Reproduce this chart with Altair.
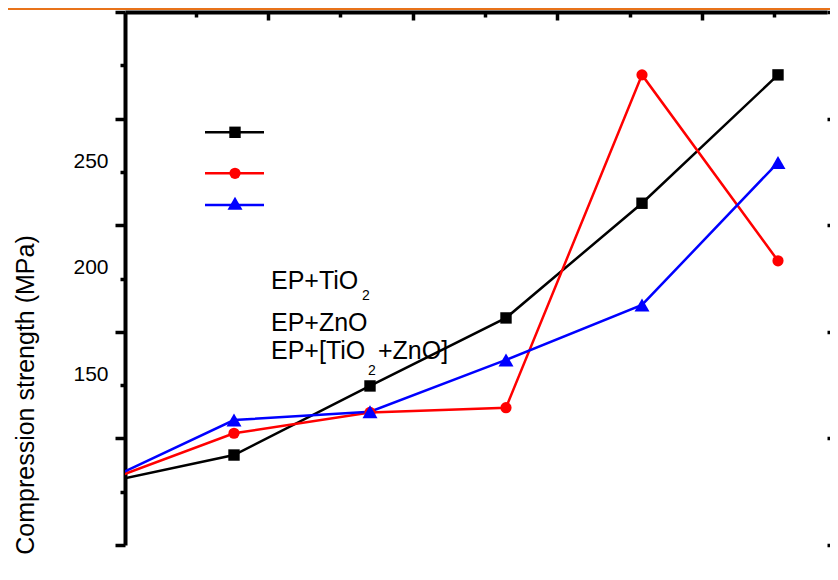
import altair as alt
import pandas as pd

# ---- data ----
series = ["EP+TiO2", "EP+ZnO", "EP+[TiO2+ZnO]"]
loading = [0, 1, 2, 3, 4, 5]
ep_tio2 = [98.6, 112.2, 144.6, 176.5, 230.3, 290.5]
ep_zno = [98.6, 122.4, 132.2, 134.4, 290.5, 203.3]
ep_mix = [98.6, 128.6, 132.5, 156.8, 182.6, 249.4]

colors = ["#000000", "#ff0000", "#0000ff"]
shapes = ["square", "circle", "triangle-up"]
sizes = [130, 125, 225]

y_label_values = [150, 200, 250]
y_tick_values = [70, 95, 120, 145, 170, 195, 220, 245, 270, 295, 320]
y_major_values = [70, 120, 170, 220, 270, 320]
top_tick_values = [0.5, 1, 1.5, 2, 2.5, 3, 3.5, 4, 4.5]

FONT = "Liberation Sans"
W, H = 702, 533
XDOM = [0.1985, 5.3603]
YDOM = [70, 320]
TOPDOM = [0.0117, 4.863]

rows = []
for name, vals in zip(series, [ep_tio2, ep_zno, ep_mix]):
    for xv, yv in zip(loading, vals):
        rows.append({"series": name, "loading": xv, "strength": yv})
df = pd.DataFrame(rows)

xscale = alt.Scale(domain=XDOM, nice=False, zero=False)
yscale = alt.Scale(domain=YDOM, nice=False, zero=False)
cscale = alt.Scale(domain=series, range=colors)

one = pd.DataFrame({"a": [0]})

left_tick_size = {"condition": {"test": "(datum.value - 70) % 50 === 0", "value": 10}, "value": 5}
top_tick_size = {"condition": {"test": "datum.value % 1 === 0", "value": 8}, "value": 5}

lines = alt.Chart(df).mark_line(clip=True, strokeWidth=2.5).encode(
    x=alt.X("loading:Q", scale=xscale, axis=None),
    y=alt.Y("strength:Q", scale=yscale,
            axis=alt.Axis(orient="left", values=y_tick_values, labels=False, title=None,
                          grid=False, domainColor="black", domainWidth=4,
                          tickColor="black", tickWidth=3.5, tickSize=left_tick_size)),
    color=alt.Color("series:N", scale=cscale, legend=None),
    order="loading:Q",
)

point_layers = []
for i, name in enumerate(series):
    sub = df[(df["series"] == name) & (df["loading"] > 0)]
    point_layers.append(
        alt.Chart(sub).mark_point(filled=True, opacity=1, clip=True, shape=shapes[i],
                                  size=sizes[i], color=colors[i]).encode(
            x=alt.X("loading:Q", scale=xscale, axis=None),
            y=alt.Y("strength:Q", scale=yscale, axis=None),
        )
    )

top_axis = alt.Chart(pd.DataFrame({"t": top_tick_values})).mark_point(opacity=0).encode(
    x=alt.X("t:Q", scale=alt.Scale(domain=TOPDOM, nice=False, zero=False),
            axis=alt.Axis(orient="bottom", offset=-H, values=top_tick_values, labels=False,
                          title=None, grid=False, domainColor="black", domainWidth=4,
                          tickColor="black", tickWidth=3.5, tickSize=top_tick_size)),
    y=alt.value(0),
)

right_axis = alt.Chart(pd.DataFrame({"v": y_major_values})).mark_point(opacity=0).encode(
    y=alt.Y("v:Q", scale=yscale,
            axis=alt.Axis(orient="right", values=y_major_values, labels=False, domain=False,
                          title=None, grid=False, tickColor="black", tickWidth=3.5, tickSize=3)),
    x=alt.value(0),
)

label_axis = alt.Chart(pd.DataFrame({"v": y_label_values})).mark_point(opacity=0).encode(
    y=alt.Y("v:Q", scale=yscale,
            axis=alt.Axis(orient="left", values=y_label_values, ticks=False, tickSize=0,
                          domain=False, title=None, grid=False, labelFont=FONT,
                          labelFontSize=21, labelColor="black", labelPadding=17)),
    x=alt.value(0),
)

# thin orange band above the frame
orange = alt.Chart(one).mark_rule(color="#e8731a", strokeWidth=3).encode(
    x=alt.value(-117), x2=alt.value(705), y=alt.value(-3.5)
)

title = alt.Chart(one).mark_text(
    text="Compression  strength  (MPa)", angle=270, font=FONT, fontSize=25,
    align="center", baseline="middle", color="black",
).encode(x=alt.value(-99), y=alt.value(383))

# legend samples
legend_layers = []
leg_line_y = [120.3, 161.3, 193]
leg_mark_y = [120.3, 161.3, 191.3]
for i in range(3):
    legend_layers.append(
        alt.Chart(one).mark_rule(color=colors[i], strokeWidth=2.5).encode(
            x=alt.value(80), x2=alt.value(139), y=alt.value(leg_line_y[i]))
    )
    legend_layers.append(
        alt.Chart(one).mark_point(shape=shapes[i], size=sizes[i], filled=True,
                                  opacity=1, color=colors[i]).encode(
            x=alt.value(110), y=alt.value(leg_mark_y[i]))
    )

def txt(s, x, y, size=25):
    return alt.Chart(one).mark_text(
        text=s, font=FONT, fontSize=size, align="left", baseline="alphabetic", color="black"
    ).encode(x=alt.value(x), y=alt.value(y))

texts = [
    txt("EP+TiO", 146, 277),
    txt("2", 237, 288, 14),
    txt("EP+ZnO", 146, 318.7),
    txt("EP+[TiO", 146, 347),
    txt("2", 243, 363, 14),
    txt("+ZnO]", 253, 347),
]

chart = alt.layer(
    orange, *texts, title, *legend_layers, lines, *point_layers,
    top_axis, right_axis, label_axis
).resolve_scale(
    x="independent", y="independent"
).resolve_axis(
    x="independent", y="independent"
).properties(
    width=W, height=H,
    padding={"left": 117, "top": 4, "right": 3, "bottom": 23},
    autosize=alt.AutoSizeParams(type="none"),
).configure_view(stroke=None)

chart.save("out.html", embed_options={"renderer": "svg", "actions": False})
